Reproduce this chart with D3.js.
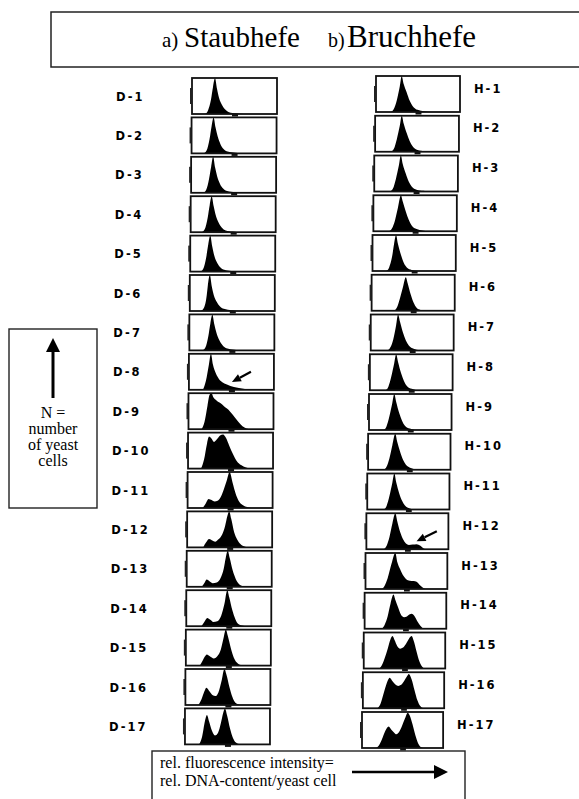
<!DOCTYPE html>
<html>
<head>
<meta charset="utf-8">
<script src="https://cdn.jsdelivr.net/npm/d3@7"></script>
<style>
  body { margin: 0; background: #fff; }
  svg { display: block; }
</style>
</head>
<body>
<div id="chart"></div>
<script>
// panel titles
var titlePrefix = ["a)", "b)"];
var titles = ["Staubhefe", "Bruchhefe"];

// sample labels
var staubLabels = ["D-1","D-2","D-3","D-4","D-5","D-6","D-7","D-8","D-9",
                   "D-10","D-11","D-12","D-13","D-14","D-15","D-16","D-17"];
var bruchLabels = ["H-1","H-2","H-3","H-4","H-5","H-6","H-7","H-8","H-9",
                   "H-10","H-11","H-12","H-13","H-14","H-15","H-16","H-17"];

// histogram outlines: [channel, % of max count]
var staubhefe = [
  [[13,0],[16,10],[19,40],[21,75],[23,100],[25,70],[27,45],[30,25],[33,13],[37,5],[44,2],[52,0]],
  [[12,0],[15,8],[18,40],[20,75],[22,100],[24,72],[26,48],[29,25],[32,12],[36,5],[44,2],[52,0]],
  [[12,0],[15,8],[18,40],[20,72],[22,100],[24,70],[26,46],[29,24],[32,12],[36,5],[44,2],[52,0]],
  [[11,0],[14,8],[17,40],[19,75],[21,100],[23,72],[25,48],[28,26],[31,13],[35,5],[42,2],[50,0]],
  [[10,0],[13,8],[16,40],[18,75],[20,100],[22,70],[24,45],[27,24],[30,12],[34,5],[41,2],[48,0]],
  [[11,0],[14,8],[17,45],[18,70],[20,100],[22,68],[24,44],[27,25],[30,13],[34,6],[42,2],[50,0]],
  [[13,0],[16,8],[19,40],[21,75],[23,100],[25,72],[27,50],[30,28],[33,15],[37,6],[45,2],[52,0]],
  [[14,0],[17,25],[20,70],[22,100],[24,70],[27,45],[30,30],[33,22],[38,15],[45,8],[50,5],[56,2],[62,0]],
  [[13,0],[16,20],[19,65],[21,95],[23,100],[25,88],[28,80],[31,74],[34,68],[37,60],[40,54],[43,44],[46,34],[50,20],[54,8],[58,2],[62,0]],
  [[13,0],[16,25],[19,70],[21,89],[23,85],[26,74],[29,82],[32,92],[35,95],[38,85],[41,65],[45,40],[49,20],[53,10],[58,3],[63,0]],
  [[15,0],[18,12],[21,25],[24,22],[27,18],[30,20],[33,30],[36,50],[39,75],[42,100],[45,70],[48,40],[51,20],[55,8],[60,2],[64,0]],
  [[16,0],[19,14],[22,23],[25,19],[28,16],[31,22],[35,36],[38,60],[40,85],[42,100],[44,80],[47,42],[50,22],[53,10],[58,2],[62,0]],
  [[15,0],[18,12],[20,20],[23,15],[26,10],[30,12],[34,25],[37,50],[39,80],[41,100],[43,80],[46,45],[49,22],[53,6],[58,1],[61,0]],
  [[15,0],[18,12],[21,23],[24,18],[27,12],[31,14],[35,30],[38,60],[41,100],[43,80],[46,45],[49,20],[52,6],[57,1],[60,0]],
  [[14,0],[17,15],[19,25],[21,31],[24,26],[28,20],[32,28],[35,45],[38,80],[40,100],[42,82],[45,48],[48,22],[52,6],[56,1],[59,0]],
  [[13,0],[16,15],[19,38],[21,48],[24,38],[27,28],[30,25],[33,35],[36,65],[39,100],[41,85],[44,50],[47,22],[50,6],[54,1],[57,0]],
  [[14,0],[17,20],[20,65],[22,82],[24,65],[27,38],[30,25],[33,32],[36,60],[38,85],[40,100],[42,82],[45,45],[48,18],[51,5],[55,0]]
];

var bruchhefe = [
  [[15,0],[18,8],[21,32],[24,70],[26,100],[28,78],[31,55],[34,32],[37,17],[42,6],[49,2],[56,0]],
  [[16,0],[19,8],[22,35],[25,72],[27,100],[29,78],[32,52],[35,30],[38,15],[43,5],[50,2],[56,0]],
  [[16,0],[19,8],[22,35],[25,72],[27,100],[29,76],[32,50],[35,28],[38,14],[43,5],[50,2],[56,0]],
  [[16,0],[19,8],[22,30],[25,65],[28,100],[30,82],[33,55],[36,32],[39,16],[44,6],[50,2],[56,0]],
  [[14,0],[17,10],[20,40],[22,75],[24,100],[26,75],[29,45],[32,22],[35,10],[40,3],[46,0]],
  [[23,0],[26,10],[29,35],[32,65],[35,93],[37,75],[40,45],[43,22],[46,8],[50,2],[54,0]],
  [[17,0],[20,8],[23,30],[26,70],[28,100],[30,80],[33,50],[36,28],[39,14],[44,5],[50,1],[55,0]],
  [[16,0],[19,10],[22,38],[25,75],[27,100],[29,78],[32,48],[35,26],[38,12],[43,4],[48,0]],
  [[15,0],[18,10],[21,38],[24,75],[26,100],[28,78],[31,48],[34,26],[37,12],[42,4],[47,0]],
  [[16,0],[19,8],[22,32],[25,68],[28,100],[30,78],[33,50],[36,28],[39,14],[44,5],[50,0]],
  [[17,0],[20,10],[23,38],[26,75],[28,100],[30,75],[33,45],[36,24],[39,11],[44,3],[49,0]],
  [[18,0],[21,10],[24,35],[27,72],[30,100],[32,78],[35,48],[38,28],[41,16],[44,12],[48,13],[52,14],[56,10],[59,3],[62,0]],
  [[17,0],[20,10],[23,30],[27,70],[31,100],[33,75],[36,55],[39,38],[42,28],[46,23],[50,22],[53,20],[56,12],[59,5],[62,0]],
  [[18,0],[21,12],[24,35],[27,70],[30,95],[32,80],[35,58],[38,38],[41,32],[44,34],[47,40],[49,42],[52,35],[55,20],[58,8],[61,0]],
  [[16,0],[19,10],[22,30],[25,55],[28,82],[30,90],[32,80],[35,62],[38,55],[41,58],[44,68],[47,82],[50,90],[52,78],[55,48],[58,20],[61,5],[63,0]],
  [[15,0],[18,10],[21,35],[24,62],[27,82],[28,85],[31,75],[34,66],[37,62],[40,65],[43,75],[46,88],[48,95],[51,80],[54,50],[57,22],[60,6],[63,0]],
  [[15,0],[18,8],[21,25],[24,45],[27,58],[28,60],[31,50],[34,42],[36,38],[39,45],[42,62],[45,82],[48,98],[50,90],[53,65],[56,35],[59,12],[62,2],[64,0]]
];

// arrows pointing at the small G2 shoulders (column, row, tail, tip in data units)
var arrows = [
  { col: 0, row: 7,  from: [62, 50], to: [43, 22] },
  { col: 1, row: 11, from: [73, 50], to: [52, 22] }
];

var yLegend = ["N =", "number", "of yeast", "cells"];
var xLegend = ["rel. fluorescence intensity=", "rel. DNA-content/yeast cell"];

var W = 579, H = 799;
var serif = "'Liberation Serif', 'Times New Roman', serif";
var bold = "'DejaVu Sans', sans-serif";

var svg = d3.select("#chart").append("svg")
  .attr("width", W)
  .attr("height", H);

svg.append("rect").attr("width", W).attr("height", H).attr("fill", "#fff");

// title box
svg.append("rect")
  .attr("x", 51).attr("y", 12)
  .attr("width", W + 10).attr("height", 55)
  .attr("fill", "none").attr("stroke", "#222").attr("stroke-width", 1.5);

var title = svg.append("text")
  .attr("y", 47)
  .attr("font-family", serif)
  .attr("fill", "#000");
title.append("tspan").attr("x", 162).attr("font-size", 21).text(titlePrefix[0]);
title.append("tspan").attr("x", 184).attr("font-size", 29).text(titles[0]);
title.append("tspan").attr("x", 328).attr("font-size", 20).text(titlePrefix[1]);
title.append("tspan").attr("x", 347).attr("font-size", 31).text(titles[1]);

// panel geometry for each column
var columns = [
  { data: staubhefe, labels: staubLabels, left0: 192, dLeft: -0.44, top0: 78, step: 39.4, w0: 85, dW: 0, side: "left" },
  { data: bruchhefe, labels: bruchLabels, left0: 376, dLeft: -0.875, top0: 76, step: 39.75, w0: 84, dW: -0.18, side: "right" }
];
var boxH = 36;

var panels = [];
columns.forEach(function(c, ci) {
  c.data.forEach(function(pts, i) {
    panels.push({
      col: ci, row: i, pts: pts, label: c.labels[i], side: c.side,
      x0: c.left0 + c.dLeft * i,
      y0: c.top0 + c.step * i,
      w: c.w0 + c.dW * i
    });
  });
});

svg.append("defs").selectAll("clipPath")
  .data(panels)
  .enter().append("clipPath")
  .attr("id", function(d) { return "clip-" + d.col + "-" + d.row; })
  .append("rect")
  .attr("width", function(d) { return d.w; })
  .attr("height", boxH);

var g = svg.selectAll("g.panel")
  .data(panels)
  .enter().append("g")
  .attr("class", "panel")
  .attr("transform", function(d) { return "translate(" + d.x0 + "," + d.y0 + ")"; });

g.each(function(d) {
  var p = d3.select(this);
  d.x = d3.scaleLinear().domain([0, 85]).range([0, d.w]);
  d.y = d3.scaleLinear().domain([0, 100]).range([boxH, 0]);

  var area = d3.area()
    .x(function(v) { return d.x(v[0]); })
    .y0(d.y(0))
    .y1(function(v) { return d.y(v[1]); })
    .curve(d3.curveMonotoneX);

  p.append("path")
    .attr("d", area(d.pts))
    .attr("clip-path", "url(#clip-" + d.col + "-" + d.row + ")")
    .attr("fill", "#000");

  p.append("rect")
    .attr("width", d.w).attr("height", boxH)
    .attr("fill", "none").attr("stroke", "#111").attr("stroke-width", 1.8);

  // scan marks on the left edge and below the axis
  p.append("line")
    .attr("x1", -1).attr("x2", -1)
    .attr("y1", 10).attr("y2", 26)
    .attr("stroke", "#222").attr("stroke-width", 2);
  p.append("rect")
    .attr("x", d.x(40)).attr("y", boxH)
    .attr("width", d.x(46) - d.x(40)).attr("height", 2.5)
    .attr("fill", "#111");
});

// sample labels
g.append("text")
  .attr("x", function(d) { return d.side === "left" ? -76 : d.w + 14; })
  .attr("y", function(d) { return d.side === "left" ? 19 : 13; })
  .attr("dominant-baseline", "middle")
  .attr("font-family", bold)
  .attr("font-weight", "bold")
  .attr("font-size", 11.5)
  .attr("letter-spacing", 2)
  .attr("fill", "#000")
  .text(function(d) { return d.label; });

// annotation arrows
arrows.forEach(function(a) {
  var d = panels.filter(function(p) { return p.col === a.col && p.row === a.row; })[0];
  var x1 = d.x0 + d.x(a.from[0]), y1 = d.y0 + d.y(a.from[1]);
  var x2 = d.x0 + d.x(a.to[0]), y2 = d.y0 + d.y(a.to[1]);
  var ang = Math.atan2(y2 - y1, x2 - x1);
  var hl = 9, hw = 4;
  var bx = x2 - hl * Math.cos(ang), by = y2 - hl * Math.sin(ang);
  svg.append("line")
    .attr("x1", x1).attr("y1", y1).attr("x2", bx).attr("y2", by)
    .attr("stroke", "#000").attr("stroke-width", 2.2);
  svg.append("path")
    .attr("d", "M" + x2 + "," + y2 +
      "L" + (bx + hw * Math.sin(ang)) + "," + (by - hw * Math.cos(ang)) +
      "L" + (bx - hw * Math.sin(ang)) + "," + (by + hw * Math.cos(ang)) + "Z")
    .attr("fill", "#000");
});

// y legend box
svg.append("rect")
  .attr("x", 9).attr("y", 329)
  .attr("width", 88).attr("height", 179)
  .attr("fill", "none").attr("stroke", "#222").attr("stroke-width", 1.4);
svg.append("line")
  .attr("x1", 53).attr("x2", 53).attr("y1", 398).attr("y2", 350)
  .attr("stroke", "#000").attr("stroke-width", 3);
svg.append("path")
  .attr("d", "M53,338L46,352L60,352Z")
  .attr("fill", "#000");
svg.append("g").selectAll("text")
  .data(yLegend)
  .enter().append("text")
  .attr("x", 53)
  .attr("y", function(d, i) { return 418 + i * 16; })
  .attr("text-anchor", "middle")
  .attr("font-family", serif)
  .attr("font-size", 16)
  .attr("fill", "#000")
  .text(function(d) { return d; });

// x legend box
svg.append("rect")
  .attr("x", 152).attr("y", 751)
  .attr("width", 313).attr("height", 60)
  .attr("fill", "#fff").attr("stroke", "#222").attr("stroke-width", 1.4);
svg.append("g").selectAll("text")
  .data(xLegend)
  .enter().append("text")
  .attr("x", 160)
  .attr("y", function(d, i) { return 768 + i * 18; })
  .attr("font-family", serif)
  .attr("font-size", 16)
  .attr("fill", "#000")
  .text(function(d) { return d; });
svg.append("line")
  .attr("x1", 352).attr("x2", 436).attr("y1", 772).attr("y2", 772)
  .attr("stroke", "#000").attr("stroke-width", 2.6);
svg.append("path")
  .attr("d", "M448,772L434,765L434,779Z")
  .attr("fill", "#000");
</script>
</body>
</html>
